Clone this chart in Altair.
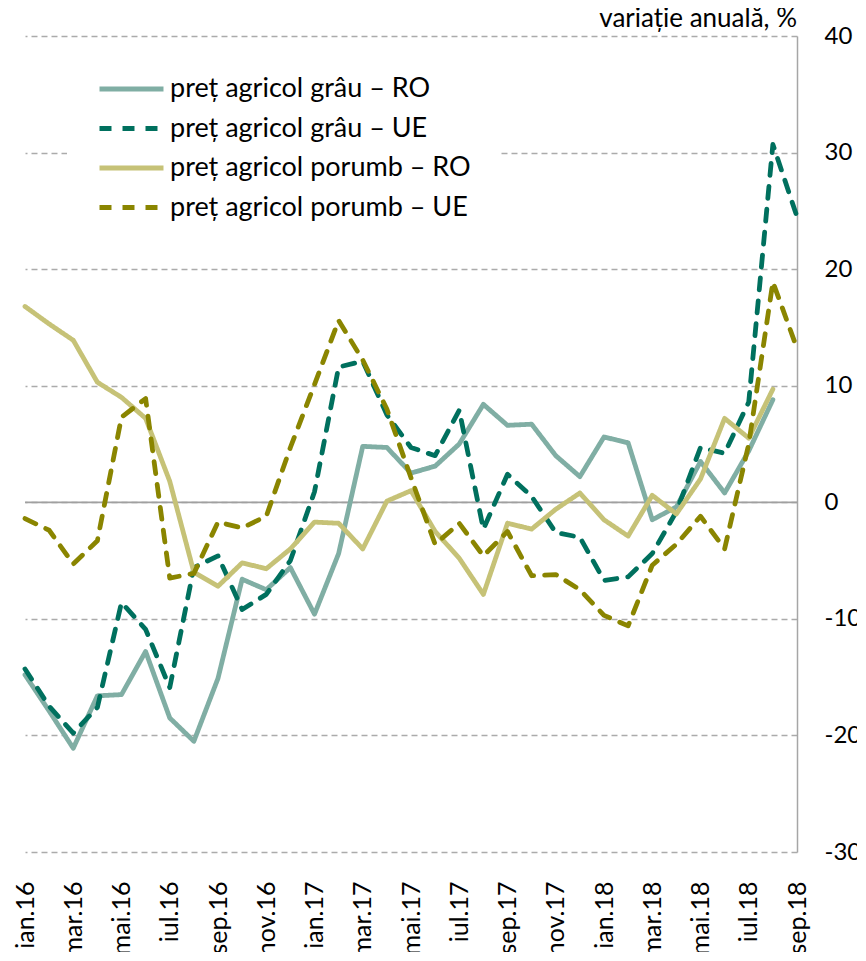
import altair as alt
import pandas as pd

months = ["ian.16", "feb.16", "mar.16", "apr.16", "mai.16", "iun.16", "iul.16", "aug.16",
          "sep.16", "oct.16", "nov.16", "dec.16",
          "ian.17", "feb.17", "mar.17", "apr.17", "mai.17", "iun.17", "iul.17", "aug.17",
          "sep.17", "oct.17", "nov.17", "dec.17",
          "ian.18", "feb.18", "mar.18", "apr.18", "mai.18", "iun.18", "iul.18", "aug.18",
          "sep.18"]
tick_labels = months[::2]

series = ["preț agricol grâu – RO", "preț agricol grâu – UE",
          "preț agricol porumb – RO", "preț agricol porumb – UE"]

grau_ro = [-14.8, -17.9, -21.1, -16.6, -16.5, -12.8, -18.5, -20.5, -15.1, -6.6, -7.5, -5.6,
           -9.6, -4.4, 4.8, 4.7, 2.5, 3.1, 5.0, 8.4, 6.6, 6.7, 4.0, 2.2,
           5.6, 5.1, -1.5, -0.4, 3.5, 0.8, 4.4, 8.8, None]
grau_ue = [-14.3, -17.5, -19.8, -17.6, -8.6, -10.9, -15.9, -5.6, -4.6, -9.2, -7.9, -5.0,
           0.9, 11.6, 12.1, 7.5, 4.7, 4.0, 7.9, -2.3, 2.4, 0.5, -2.6, -3.0,
           -6.7, -6.4, -4.4, -0.8, 4.7, 4.2, 8.6, 30.7, 24.5]
porumb_ro = [16.8, 15.3, 13.9, 10.3, 9.0, 7.2, 1.8, -6.0, -7.2, -5.2, -5.7, -4.0,
             -1.7, -1.8, -4.0, 0.1, 1.0, -2.5, -4.8, -7.9, -1.8, -2.3, -0.6, 0.8,
             -1.5, -2.9, 0.6, -1.0, 2.0, 7.2, 5.5, 9.7, None]
porumb_ue = [-1.4, -2.4, -5.3, -3.3, 7.3, 8.9, -6.5, -6.1, -1.7, -2.2, -1.2, 4.7,
             10.1, 15.6, 12.2, 8.0, 2.1, -3.6, -1.8, -4.6, -2.5, -6.3, -6.2, -7.5,
             -9.7, -10.6, -5.4, -3.6, -1.2, -4.0, 5.0, 18.9, 13.2]

colors = ["#80aea4", "#00705e", "#c6c277", "#8a8500"]
dashes = [[1, 0], [12, 11], [1, 0], [12, 11]]
y_ticks = [-30, -20, -10, 0, 10, 20, 30, 40]

rows = []
for name, vals in zip(series, [grau_ro, grau_ue, porumb_ro, porumb_ue]):
    for m, v in zip(months, vals):
        if v is not None:
            rows.append({"luna": m, "serie": name, "valoare": v})
df = pd.DataFrame(rows)

FONT = "Lato"

legend = alt.Legend(
    title=None, orient="none", legendX=42, legendY=10,
    symbolType="stroke", symbolSize=4096, symbolStrokeWidth=4.8,
    labelFont=FONT, labelFontSize=27, labelColor="black", labelLimit=0,
    labelOffset=4, clipHeight=26, rowPadding=12.5, padding=30, fillColor="white",
)

x_enc = alt.X("luna:O", sort=months, scale=alt.Scale(type="point", padding=0),
              axis=alt.Axis(values=tick_labels, labelAngle=-90, labelFont=FONT,
                            labelFontSize=25, labelColor="black", labelPadding=29,
                            ticks=False, domain=False, grid=False, title=None))
y_enc = alt.Y("valoare:Q", scale=alt.Scale(domain=[-30, 40], nice=False, zero=False),
              axis=alt.Axis(orient="right", values=y_ticks, labelExpr="'' + datum.value",
                            labelFont=FONT, labelFontSize=24, labelColor="black",
                            labelPadding=27, ticks=False, domain=True,
                            domainColor="#a6a6a6", domainWidth=1.5, grid=True,
                            gridColor="#ababab", gridDash=[6, 4], gridWidth=1.3,
                            title=None))

lines = alt.Chart(df).mark_line(strokeWidth=4.8, strokeCap="round", strokeJoin="round").encode(
    x=x_enc,
    y=y_enc,
    color=alt.Color("serie:N", scale=alt.Scale(domain=series, range=colors), legend=legend),
    strokeDash=alt.StrokeDash("serie:N", scale=alt.Scale(domain=series, range=dashes), legend=legend),
)

zero = alt.Chart(pd.DataFrame({"y": [0]})).mark_rule(color="#a0a0a0", strokeWidth=1.8).encode(
    y=alt.Y("y:Q")
)

chart = alt.layer(zero, lines).properties(
    width=772, height=816,
    title=alt.TitleParams("variație anuală, %", anchor="end", frame="group", font=FONT,
                          fontSize=26, fontWeight="normal", color="black", offset=-8),
    autosize=alt.AutoSizeParams(type="none"),
    padding={"left": 17, "top": 28, "right": 60, "bottom": 100},
).configure_view(stroke=None)

chart.save("out.html", embed_options={"renderer": "svg", "actions": False})
